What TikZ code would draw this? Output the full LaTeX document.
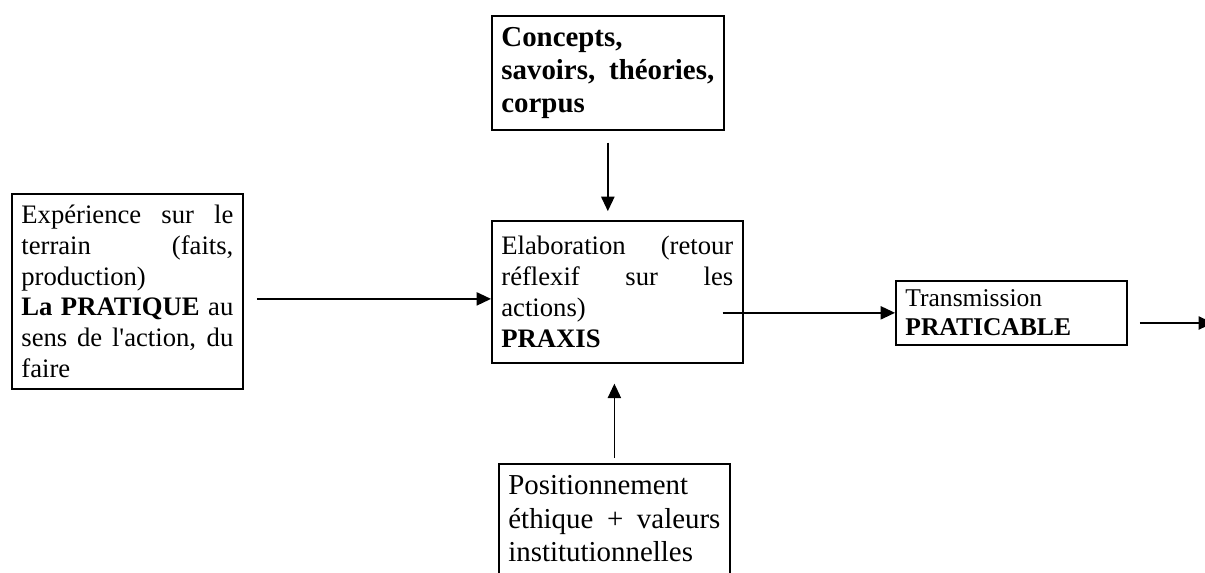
\documentclass[tikz,border=0pt]{standalone}
\usepackage{fontspec}
\setmainfont{Liberation Serif}
\usetikzlibrary{arrows.meta}

\tikzset{
  boite/.style={draw, line width=0.75pt, anchor=north west, align=justify, inner xsep=4.3pt, inner ysep=3pt},
  fleche/.style={line width=0.6pt, -{Triangle[length=6.5pt,width=6pt]}}
}

\begin{document}
\begin{tikzpicture}[x=0.45pt, y=-0.45pt]
\useasboundingbox (0,0) rectangle (1205,572);
% les cases
\node[boite, text width=95.4pt, minimum height=87.75pt, font=\fontsize{12}{13.8}\selectfont] (pratique) at (11,193)
  {Expérience sur le\linebreak terrain (faits,\linebreak production)\\ \textbf{La PRATIQUE} au\linebreak sens de l\textquotesingle action, du\linebreak faire};
\node[boite, text width=95.8pt, minimum height=51.3pt, font=\fontsize{13}{14.95}\selectfont\bfseries] (concepts) at (491,15)
  {Concepts,\\ savoirs, théories,\linebreak corpus};
\node[boite, text width=104.35pt, minimum height=63.9pt, font=\fontsize{12}{14}\selectfont] (praxis) at (491,220)
  {Elaboration (retour\linebreak réflexif sur les\linebreak actions)\\ \textbf{PRAXIS}\par\vspace*{4pt}};
\node[boite, text width=95.4pt, minimum height=28.8pt, font=\fontsize{11.5}{13.2}\selectfont] (transmission) at (895,280)
  {Transmission\\ \textbf{PRATICABLE}};
\node[boite, text width=95.4pt, inner ysep=5.4pt, font=\fontsize{13}{14.95}\selectfont] (valeurs) at (498,463)
  {Positionnement\\ éthique + valeurs\linebreak institutionnelles\par\vspace*{30pt}};
\coordinate (sortie) at (1213,323);
% les fleches
\draw[fleche, shorten <=5.4pt, shorten >=4pt] (concepts.south) -- (concepts.south |- praxis.north);
\draw[fleche, shorten <=2.25pt, shorten >=9pt] (valeurs.north) -- (valeurs.north |- praxis.south);
\draw[fleche, shorten <=5.85pt] ([yshift=-3.4pt]pratique.east) -- ([yshift=-3.4pt]pratique.east -| praxis.west);
\draw[fleche] ([xshift=-9.5pt]praxis.east |- transmission.west) -- (transmission.west);
\draw[fleche] ([xshift=5.4pt]transmission.east |- sortie) -- (sortie);
\end{tikzpicture}
\end{document}
